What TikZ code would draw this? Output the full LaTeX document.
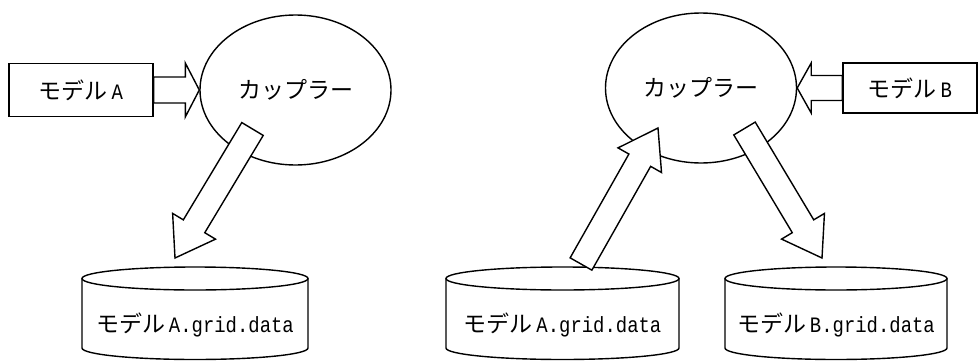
\documentclass[tikz,border=0pt]{standalone}
\usepackage{fontspec}
\setmainfont{Noto Sans CJK JP}
\newfontfamily\latn[FakeStretch=0.86]{Liberation Mono}
\usetikzlibrary{calc,shapes.geometric}

\newcommand\en[1]{{\latn\fontsize{22}{24}\selectfont #1}}

\tikzset{
	ln/.style={line width=1.4pt},
	jp/.style={font=\fontsize{23}{26}\selectfont},
	mdl/.style={draw, ln, jp, minimum height=53pt, inner sep=0pt},
	cpl/.style={draw, ln, jp, ellipse, minimum width=191pt, minimum height=150pt, inner sep=0pt},
	db/.style={jp, inner sep=0pt},
	% hollow block arrow: shaft half width, head half width, head length
	fat/.style n args={3}{draw, ln, fill=white, to path={let \p1=(\tikztostart), \p2=(\tikztotarget), \n1={atan2(\y2-\y1,\x2-\x1)}, \n2={veclen(\x2-\x1,\y2-\y1)} in
		([shift={(\p1)},rotate=\n1]0,#1) -- ([shift={(\p1)},rotate=\n1]\n2-#3,#1) -- ([shift={(\p1)},rotate=\n1]\n2-#3,#2) -- (\p2)
		-- ([shift={(\p1)},rotate=\n1]\n2-#3,-#2) -- ([shift={(\p1)},rotate=\n1]\n2-#3,-#1) -- ([shift={(\p1)},rotate=\n1]0,-#1) -- cycle}}
}

\begin{document}
\begin{tikzpicture}[x=1pt, y=1pt]
	\useasboundingbox (0,0) rectangle (980,360);
	% left: model A alone
	\node[mdl, minimum width=144pt] (mA) at (81,270) {モデル\,\en{A}};
	\node[cpl] (cplA) at (295.5,270) {カップラー};
	\node[db] (dbA) at (195,35) {モデル\,\en{A.grid.data}};
	% right: A to B
	\node[cpl] (cplB) at (701,272) {カップラー};
	\node[mdl, minimum width=134pt, minimum height=50pt] (mB) at (910,272) {モデル\,\en{B}};
	\node[db] (dbA2) at (562.5,35) {モデル\,\en{A.grid.data}};
	\node[db] (dbB) at (836,35) {モデル\,\en{B.grid.data}};
	\foreach \n/\r in {dbA/113, dbA2/116.5, dbB/111} {
		\draw[ln] ($(\n)+(-\r,46.5)$) -- ($(\n)+(-\r,-23)$) arc[start angle=180, end angle=360, x radius=\r, y radius=11.5] -- ($(\n)+(\r,46.5)$);
		\draw[ln] ($(\n)+(0,46.5)$) ellipse[x radius=\r, y radius=11.5];
	}
	\coordinate (aOut) at ($(cplA)+(-43,-39)$);
	\coordinate (aIn) at ($(dbA)+(-20,67)$);
	\coordinate (a2Out) at ($(dbA2)+(18.5,61)$);
	\coordinate (bIn) at ($(cplB)+(-43,-40)$);
	\coordinate (bOut) at ($(cplB)+(43.5,-40.5)$);
	\coordinate (dbBIn) at ($(dbB)+(-14,67)$);
	\draw[fat={13}{27}{14}, fill=none] (mA.east) to (cplA.west);
	\draw[fat={12.5}{25}{14}, fill=none] (mB.west) to (cplB.east);
	\draw[fat={12.5}{25}{37}] (aOut) to (aIn);
	\draw[fat={12.5}{25}{37}] (a2Out) to (bIn);
	\draw[fat={12.5}{25}{37}] (bOut) to (dbBIn);
\end{tikzpicture}
\end{document}
